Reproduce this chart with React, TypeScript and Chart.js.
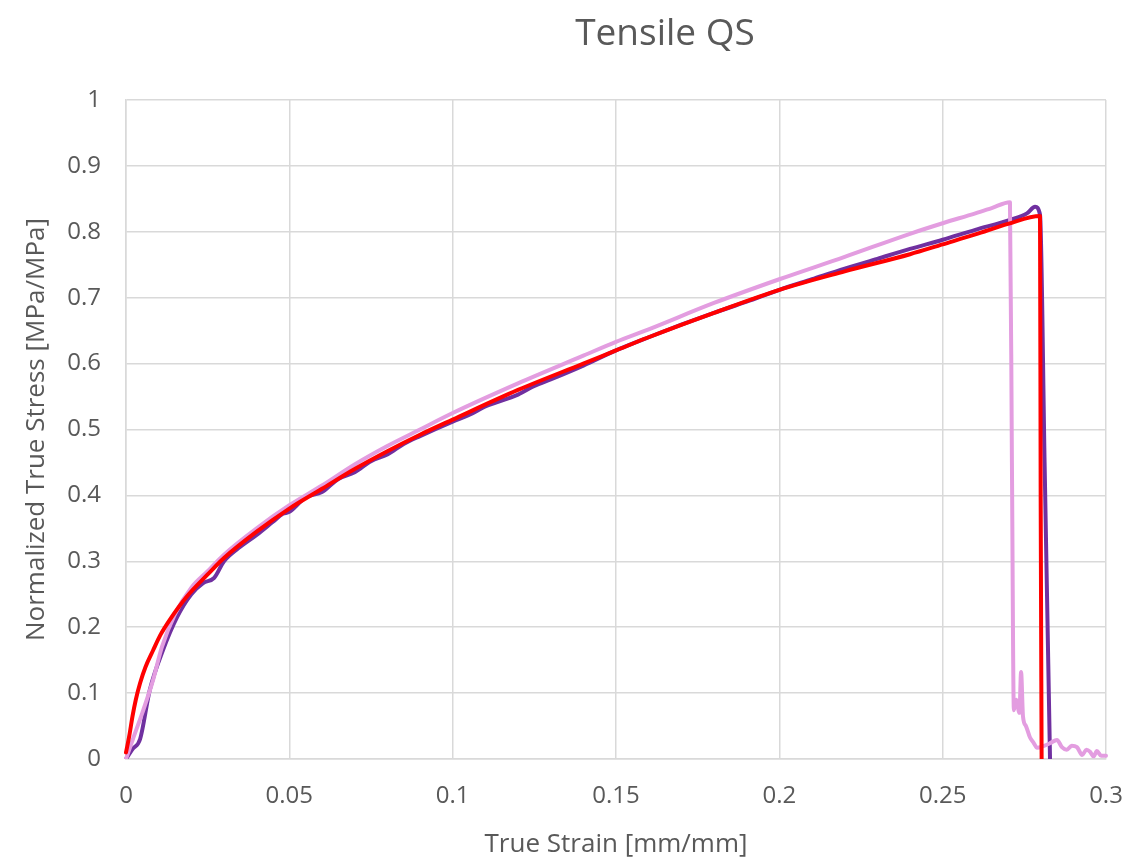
import React, { useEffect, useRef } from "react";
import { Chart, registerables } from "chart.js";

Chart.register(...registerables);

const TITLE = "Tensile QS";
const X_TITLE = "True Strain [mm/mm]";
const Y_TITLE = "Normalized True Stress [MPa/MPa]";

const redStrain = [0, 0.001, 0.002, 0.003, 0.0043, 0.006, 0.0083, 0.0105, 0.0135, 0.0187, 0.025, 0.03, 0.04, 0.05, 0.06, 0.07, 0.08, 0.09, 0.1, 0.12, 0.14, 0.15, 0.16, 0.18, 0.2, 0.22, 0.24, 0.25, 0.26, 0.27, 0.2798, 0.28, 0.2803];
const redStress = [0.01, 0.035, 0.065, 0.09, 0.115, 0.14, 0.165, 0.188, 0.212, 0.247, 0.28, 0.305, 0.345, 0.38, 0.41, 0.44, 0.467, 0.492, 0.515, 0.56, 0.6, 0.62, 0.64, 0.677, 0.712, 0.74, 0.766, 0.781, 0.796, 0.812, 0.824, 0.4, -0.01];

const purpleStrain = [0, 0.002, 0.0043, 0.0073, 0.0113, 0.0156, 0.02, 0.0236, 0.027, 0.03, 0.035, 0.04, 0.045, 0.048, 0.05, 0.055, 0.06, 0.065, 0.07, 0.075, 0.08, 0.085, 0.09, 0.1, 0.105, 0.11, 0.12, 0.125, 0.13, 0.14, 0.15, 0.16, 0.17, 0.18, 0.19, 0.2, 0.21, 0.22, 0.23, 0.24, 0.25, 0.26, 0.2706, 0.2758, 0.2783, 0.2798, 0.2812, 0.2829];
const purpleStress = [0, 0.015, 0.03, 0.105, 0.165, 0.215, 0.25, 0.267, 0.275, 0.3, 0.322, 0.34, 0.36, 0.372, 0.375, 0.397, 0.405, 0.425, 0.435, 0.452, 0.462, 0.478, 0.49, 0.512, 0.522, 0.535, 0.553, 0.566, 0.576, 0.597, 0.62, 0.64, 0.659, 0.677, 0.694, 0.712, 0.728, 0.744, 0.759, 0.774, 0.788, 0.803, 0.818, 0.828, 0.838, 0.826, 0.45, -0.01];

const pinkStrain = [0, 0.0021, 0.005, 0.0083, 0.011, 0.015, 0.02, 0.025, 0.03, 0.04, 0.05, 0.06, 0.07, 0.08, 0.09, 0.1, 0.12, 0.14, 0.15, 0.16, 0.18, 0.2, 0.22, 0.24, 0.25, 0.26, 0.265, 0.2706, 0.2712, 0.2718, 0.2725, 0.2735, 0.274, 0.2746, 0.2755, 0.2767, 0.2778, 0.2789, 0.281, 0.2829, 0.285, 0.2865, 0.288, 0.2895, 0.2911, 0.2927, 0.294, 0.2951, 0.2962, 0.2972, 0.2985, 0.3];
const pinkStress = [0, 0.03, 0.07, 0.12, 0.17, 0.22, 0.26, 0.285, 0.31, 0.35, 0.385, 0.415, 0.447, 0.475, 0.5, 0.525, 0.57, 0.612, 0.633, 0.652, 0.692, 0.728, 0.762, 0.797, 0.813, 0.828, 0.836, 0.845, 0.45, 0.074, 0.09, 0.07, 0.132, 0.064, 0.05, 0.033, 0.025, 0.017, 0.02, 0.024, 0.029, 0.018, 0.014, 0.02, 0.018, 0.006, 0.014, 0.011, 0.004, 0.012, 0.005, 0.005];

const X_TICKS = [0, 0.05, 0.1, 0.15, 0.2, 0.25, 0.3];
const Y_TICKS = [0, 0.1, 0.2, 0.3, 0.4, 0.5, 0.6, 0.7, 0.8, 0.9, 1];

const FONT = "'Open Sans', 'Noto Sans', sans-serif";
const TEXT = "#595959";
const GRID = "#d9d9d9";

const toXY = (xs: number[], ys: number[]) => xs.map((x, i) => ({ x, y: ys[i] }));
const fmt = (v: any) => String(Number(Number(v).toFixed(4)));

const titlePlugin = {
  id: "customTitle",
  afterDraw(chart: any) {
    const ctx = chart.ctx;
    ctx.save();
    ctx.font = `37px ${FONT}`;
    ctx.fillStyle = TEXT;
    ctx.textAlign = "center";
    ctx.textBaseline = "middle";
    ctx.fillText(TITLE, 665, 34);
    ctx.restore();
  },
};

export default function App() {
  const ref = useRef<HTMLCanvasElement | null>(null);
  useEffect(() => {
    document.body.style.margin = "0";
    const ds = (label: string, xs: number[], ys: number[], color: string, w: number) => ({
      label,
      data: toXY(xs, ys),
      showLine: true,
      borderColor: color,
      backgroundColor: color,
      borderWidth: w,
      pointRadius: 0,
      cubicInterpolationMode: "monotone" as const,
      borderJoinStyle: "round" as const,
      borderCapStyle: "round" as const,
    });
    const chart = new Chart(ref.current as HTMLCanvasElement, {
      type: "scatter",
      data: {
        datasets: [
          ds("Red", redStrain, redStress, "#ff0000", 4),
          ds("Pink", pinkStrain, pinkStress, "#e39de0", 4),
          ds("Purple", purpleStrain, purpleStress, "#7030a0", 4),
        ],
      },
      options: {
        animation: false,
        responsive: false,
        clip: { left: 5, right: 5, top: 5, bottom: 0 } as any,
        layout: { padding: { left: 0, right: 35, top: 100, bottom: 0 } },
        plugins: { legend: { display: false }, tooltip: { enabled: false }, title: { display: false } },
        scales: {
          x: {
            type: "linear",
            min: 0,
            max: 0.3,
            afterBuildTicks: (s: any) => { s.ticks = X_TICKS.map((v) => ({ value: v })); },
            afterFit: (s: any) => { s.height = 105; s.paddingLeft = 0; s.paddingRight = 0; },
            grid: { color: GRID, lineWidth: 1.5, drawTicks: false },
            border: { color: GRID, width: 1.5 },
            ticks: { color: TEXT, font: { family: FONT, size: 24 }, padding: 23, maxRotation: 0, callback: (v: any) => fmt(v) },
            title: { display: true, text: X_TITLE, color: TEXT, font: { family: FONT, size: 26 }, padding: { top: 4, bottom: 4 } },
          },
          y: {
            type: "linear",
            min: 0,
            max: 1,
            afterBuildTicks: (s: any) => { s.ticks = Y_TICKS.map((v) => ({ value: v })); },
            afterFit: (s: any) => { s.width = 126; s.paddingTop = 0; s.paddingBottom = 0; },
            grid: { color: GRID, lineWidth: 1.5, drawTicks: false },
            border: { color: GRID, width: 1.5 },
            ticks: { color: TEXT, font: { family: FONT, size: 24 }, padding: 25, callback: (v: any) => fmt(v) },
            title: { display: true, text: Y_TITLE, color: TEXT, font: { family: FONT, size: 26 }, padding: { top: 21, bottom: 21 } },
          },
        },
      },
      plugins: [titlePlugin],
    });
    return () => chart.destroy();
  }, []);
  return (
    <div style={{ position: "fixed", left: 0, top: 0, width: 1141, height: 864, background: "#fff" }}>
      <canvas ref={ref} width={1141} height={864} />
    </div>
  );
}
